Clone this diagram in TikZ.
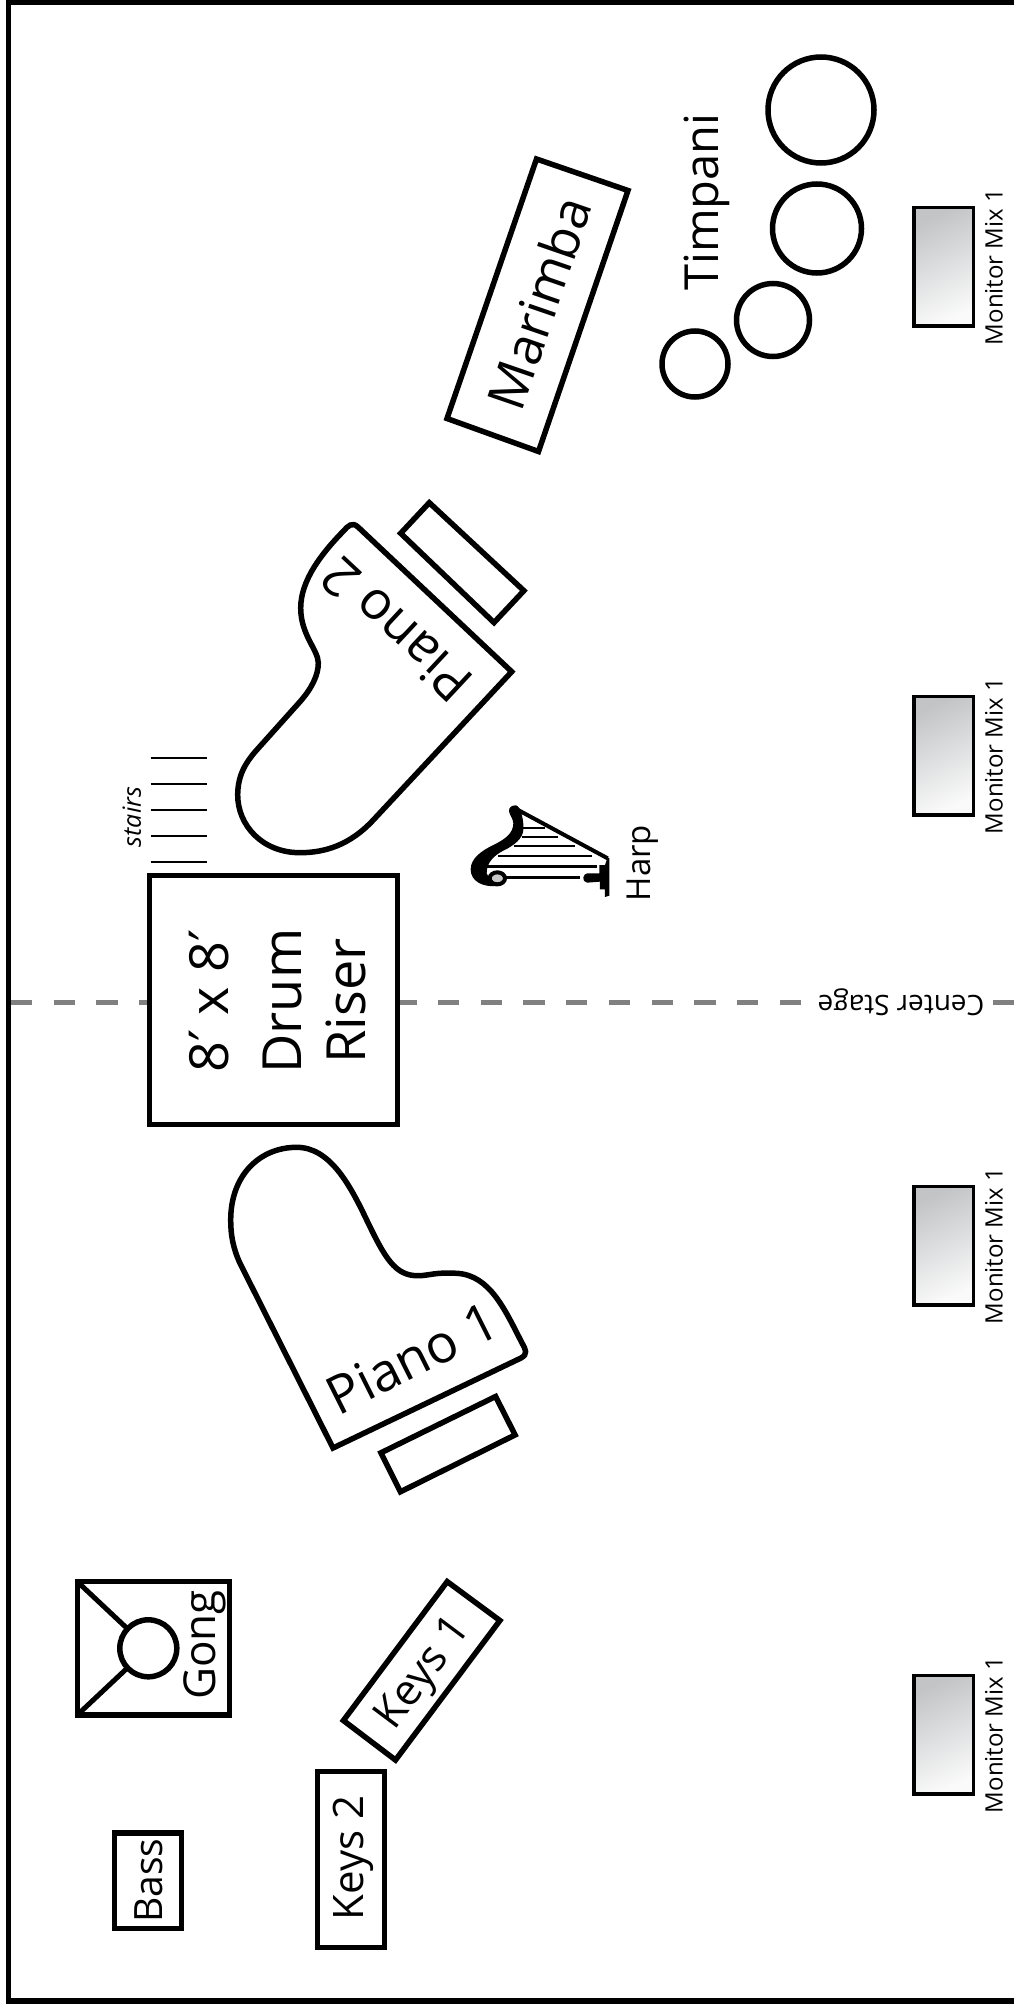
\documentclass[tikz,border=0pt]{standalone}
\usepackage{fontspec}
\setmainfont{Open Sans}
\newfontfamily\primefont{DejaVu Sans}
\usetikzlibrary{shadings}
\newcommand{\fsz}[1]{\fontsize{#1}{#1}\selectfont}
\newcommand{\pr}{{\primefont ′}}
\definecolor{moncold}{HTML}{C2C4C6}
\definecolor{monlight}{HTML}{FAFAFA}
\definecolor{centergray}{HTML}{808080}
\definecolor{harpgray}{HTML}{C8C8C8}
\tikzset{
  x=1pt,y=-1pt,
  outline/.style={draw=black,line width=5.5pt,line join=miter,fill=white},
  label/.style={inner sep=0pt,text=black},
  tread/.style={draw=black,line width=2.4pt},
  hstring/.style={draw=black,line width=2.4pt},
  monitor/.style={draw=black,line width=3.5pt,top color=moncold,bottom color=monlight,shading angle=25},
}
\begin{document}
\begin{tikzpicture}
\useasboundingbox (0,0) rectangle (1014,2007);
\fill[white] (0,0) rectangle (1014,2007);
\begin{scope}
\clip (0,0) rectangle (1014,2007);
% frame
\draw[black,line width=5.5pt,line join=miter] (1020,2) -- (8.5,2) -- (8.5,2001) -- (1020,2001);
% centre line
\draw[centergray,line width=5pt,dash pattern=on 21.3pt off 21.4pt] (11,1002) -- (1014,1002);
\node[label,fill=white,rotate=180,font=\fsz{28},inner xsep=3pt] (center) at (901,1002) {Center Stage};
% riser
\draw[outline] (149.5,875.5) rectangle (397.5,1124.5);
\node[label,rotate=90,align=center,font=\fontsize{54}{64}\selectfont] (riser) at (278,1001) {8\pr{} x 8\pr\\[9pt]Drum\\Riser};
% stairs
\foreach \y in {757.7,784,810,836,862} \draw[tread] (150.7,\y) -- (206.7,\y);
\node[label,rotate=90,font=\fsz{25}\itshape] (stairs) at (131.7,817) {stairs};
% piano 2
\draw[outline] (343.5,531) .. controls (348,526) and (352,521.5) .. (358,527) -- (511.7,671.7) -- (373.3,820)
  .. controls (350,845) and (325,852.7) .. (300,852.7) .. controls (262,852.7) and (237.7,825) .. (237.7,795)
  .. controls (237.7,775) and (246,762) .. (256.7,750) -- (300,701.7)
  .. controls (312,688) and (318.3,675) .. (318.3,663) .. controls (318.3,650) and (300.7,635) .. (300.7,608)
  .. controls (300.7,580) and (322,553) .. cycle;
\node[label,rotate=137,font=\fsz{53}] (piano2) at (396,630) {Piano 2};
\draw[outline] (429.3,502.7) -- (523.9,590.7) -- (494,622.6) -- (400.7,533.3) -- cycle;
% piano 1
\draw[outline] (333,1448) -- (240,1263.3) .. controls (233,1248) and (230.7,1235) .. (230.7,1220)
  .. controls (230.7,1175) and (260,1147.3) .. (296.7,1147.3) .. controls (330,1147.3) and (350,1185) .. (366.7,1220)
  .. controls (385,1258) and (395,1276) .. (418.3,1275.7) .. controls (430,1275.5) and (435,1272) .. (456.7,1273.3)
  .. controls (490,1275) and (505,1310) .. (522,1343) .. controls (526,1350) and (528,1354) .. (521,1358) -- cycle;
\node[label,rotate=26.6,font=\fsz{53}] (piano1) at (412,1358) {Piano 1};
\draw[outline] (495.6,1396.5) -- (515.1,1434.9) -- (400.4,1491.8) -- (380.9,1452.8) -- cycle;
% marimba
\draw[outline] (536.5,159) -- (628,190.5) -- (538.5,451.5) -- (447,418.5) -- cycle;
\node[label,rotate=71,font=\fsz{52}] (marimba) at (539,303) {Marimba};
% timpani
\draw[outline] (821,110) circle[radius=53];
\draw[outline] (817,228.5) circle[radius=44.5];
\draw[outline] (773,320) circle[radius=36.5];
\draw[outline] (695,364) circle[radius=33];
\node[label,rotate=90,font=\fsz{47}] (timpani) at (707,202) {Timpani};
% monitors
\foreach \i/\y in {1/206,2/695,3/1185,4/1674} {
  \draw[monitor] (913.8,\y+1.5) rectangle (973.5,\y+120);
  \node[label,rotate=90,font=\fsz{24}] (mon\i) at (994,\y+61) {Monitor Mix 1};
}
% keys 1
\draw[outline] (447.2,1581.6) -- (499.9,1620.5) -- (395.5,1760) -- (343.4,1720.5) -- cycle;
\node[label,rotate=53.2,font=\fsz{43}] (keys1) at (425,1674) {Keys 1};
% keys 2
\draw[outline] (317.4,1771.7) rectangle (384.3,1947.6);
\node[label,rotate=90,font=\fsz{42}] (keys2) at (353,1858) {Keys 2};
% bass
\draw[outline] (114.7,1833.1) rectangle (181.3,1928.6);
\node[label,rotate=90,font=\fsz{39}] (bass) at (148.5,1880.7) {Bass};
% gong
\draw[outline] (77.4,1581.7) rectangle (229.3,1714.9);
\draw[black,line width=5pt] (77.4,1581.7) -- (148.3,1648.3) -- (77.4,1714.9);
\draw[outline] (148.3,1648.3) circle[radius=28.5];
\node[label,rotate=90,font=\fsz{44}] (gong) at (205,1645) {Gong};
% harp
\begin{scope}[shift={(440,780)},x=0.3333pt,y=-0.3333pt]
  \foreach \y/\a/\b in {144/250/315,171/245/355,198/222/405,228/175/455,260/140/470}
    \draw[hstring] (\a,\y) -- (\b,\y);
  \draw[black,line width=2.8pt] (195,293) -- (420,293);
  \draw[black,line width=4pt] (225,85) -- (503,235);
  \fill[black] (207,92) .. controls (207,82) and (215,76) .. (228,76) .. controls (245,80) and (252,130) .. (250,150)
    .. controls (248,175) and (225,195) .. (190,212) .. controls (165,225) and (140,245) .. (140,280) -- (150,300) -- (170,318)
    .. controls (130,322) and (92,305) .. (92,268) .. controls (92,235) and (125,212) .. (160,195)
    .. controls (195,178) and (220,160) .. (220,130) .. controls (220,115) and (207,105) .. cycle;
  \draw[black,line width=4pt,fill=harpgray] (172,295) ellipse[x radius=23,y radius=18];
  \fill[black] (503,232) -- (508,235) -- (508,347) -- (495,351) -- (495,328) -- (480,328) -- (480,305) -- (442,308)
    .. controls (432,305) and (428,298) .. (430,292) .. controls (432,285) and (436,280) .. (442,280)
    -- (478,280) -- (478,255) -- (495,255) -- cycle;
\end{scope}
\node[label,rotate=90,font=\fsz{33}] (harp) at (643,863) {Harp};
\end{scope}
\end{tikzpicture}
\end{document}
